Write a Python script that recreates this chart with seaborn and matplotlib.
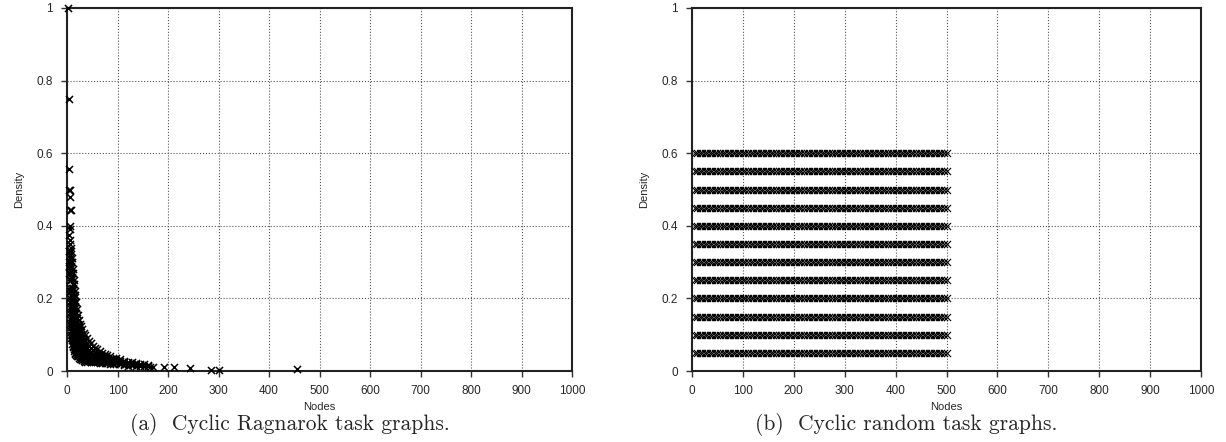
import matplotlib
matplotlib.use("Agg")
import matplotlib.pyplot as plt
import pandas as pd
import seaborn as sns

# (a) Cyclic Ragnarok task graphs: node count -> densities observed
ragnarok_nodes = [2, 3, 4, 5, 6, 7, 8, 9, 10, 11, 12, 13, 14, 15, 16, 18, 20, 22, 24, 26,
                  28, 30, 33, 36, 40, 44, 48, 52, 56, 60, 65, 70, 75, 80, 86, 92, 98, 105,
                  112, 120, 128, 136, 145, 152, 160, 165, 170, 192, 212, 244, 285, 301, 455]
ragnarok_density = [
    [1.0],
    [0.556, 0.33, 0.29],
    [0.75, 0.5, 0.375, 0.33, 0.30, 0.27],
    [0.5, 0.48, 0.39, 0.36, 0.32, 0.28, 0.25, 0.22, 0.20],
    [0.444, 0.4, 0.35, 0.31, 0.27, 0.23, 0.19, 0.16, 0.13],
    [0.444, 0.34, 0.30, 0.26, 0.22, 0.18, 0.15, 0.12, 0.10],
    [0.33, 0.29, 0.25, 0.21, 0.17, 0.14, 0.11, 0.09],
    [0.31, 0.27, 0.23, 0.19, 0.16, 0.13, 0.10, 0.085],
    [0.30, 0.26, 0.22, 0.18, 0.15, 0.12, 0.095, 0.075],
    [0.28, 0.24, 0.20, 0.17, 0.14, 0.11, 0.09, 0.07],
    [0.27, 0.23, 0.19, 0.16, 0.13, 0.105, 0.085, 0.065],
    [0.25, 0.21, 0.18, 0.15, 0.12, 0.095, 0.075, 0.06],
    [0.24, 0.20, 0.17, 0.14, 0.115, 0.09, 0.07, 0.055],
    [0.22, 0.19, 0.16, 0.13, 0.11, 0.085, 0.065, 0.05],
    [0.21, 0.18, 0.15, 0.125, 0.10, 0.08, 0.06, 0.048],
    [0.19, 0.16, 0.135, 0.11, 0.09, 0.072, 0.055, 0.045],
    [0.17, 0.145, 0.12, 0.10, 0.082, 0.066, 0.052, 0.042],
    [0.155, 0.13, 0.11, 0.09, 0.075, 0.06, 0.048, 0.04],
    [0.14, 0.12, 0.10, 0.082, 0.068, 0.055, 0.045, 0.037],
    [0.13, 0.11, 0.092, 0.076, 0.062, 0.05, 0.04, 0.034],
    [0.125, 0.10, 0.085, 0.07, 0.058, 0.047, 0.038, 0.032],
    [0.115, 0.095, 0.08, 0.066, 0.054, 0.044, 0.036, 0.03],
    [0.105, 0.088, 0.073, 0.06, 0.05, 0.041, 0.034, 0.028],
    [0.10, 0.082, 0.068, 0.056, 0.046, 0.038, 0.031, 0.026],
    [0.09, 0.075, 0.062, 0.051, 0.042, 0.035, 0.029, 0.025],
    [0.083, 0.068, 0.056, 0.047, 0.039, 0.032, 0.027],
    [0.076, 0.062, 0.051, 0.043, 0.036, 0.03, 0.025],
    [0.07, 0.057, 0.047, 0.04, 0.033, 0.028, 0.024],
    [0.064, 0.053, 0.044, 0.037, 0.031, 0.026],
    [0.06, 0.05, 0.041, 0.034, 0.029, 0.024],
    [0.055, 0.045, 0.038, 0.032, 0.027, 0.022],
    [0.05, 0.042, 0.035, 0.03, 0.025, 0.021],
    [0.046, 0.039, 0.033, 0.028, 0.023],
    [0.043, 0.036, 0.031, 0.026, 0.022],
    [0.04, 0.034, 0.029, 0.024, 0.02],
    [0.037, 0.032, 0.027, 0.022, 0.019],
    [0.035, 0.03, 0.025, 0.021],
    [0.032, 0.027, 0.023, 0.019],
    [0.028, 0.024, 0.02, 0.017],
    [0.026, 0.022, 0.018, 0.015],
    [0.024, 0.02, 0.016],
    [0.022, 0.018, 0.015],
    [0.02, 0.017, 0.014],
    [0.019, 0.015],
    [0.017, 0.013],
    [0.012],
    [0.011],
    [0.012],
    [0.012],
    [0.008],
    [0.004],
    [0.003],
    [0.006],
]

# (b) Cyclic random task graphs: every node count x every density level
random_nodes = [5, 10, 15, 20, 25, 30, 35, 40, 45, 50,
                55, 60, 65, 70, 75, 80, 85, 90, 95, 100,
                105, 110, 115, 120, 125, 130, 135, 140, 145, 150,
                155, 160, 165, 170, 175, 180, 185, 190, 195, 200,
                205, 210, 215, 220, 225, 230, 235, 240, 245, 250,
                255, 260, 265, 270, 275, 280, 285, 290, 295, 300,
                305, 310, 315, 320, 325, 330, 335, 340, 345, 350,
                355, 360, 365, 370, 375, 380, 385, 390, 395, 400,
                405, 410, 415, 420, 425, 430, 435, 440, 445, 450,
                455, 460, 465, 470, 475, 480, 485, 490, 495, 500]
random_density = [0.05, 0.10, 0.15, 0.20, 0.25, 0.30, 0.35, 0.40, 0.45, 0.50, 0.55, 0.60]

x_ticks = [0, 100, 200, 300, 400, 500, 600, 700, 800, 900, 1000]
y_ticks = [0, 0.2, 0.4, 0.6, 0.8, 1]
y_tick_labels = ["0", "0.2", "0.4", "0.6", "0.8", "1"]
captions = ["(a)  Cyclic Ragnarok task graphs.", "(b)  Cyclic random task graphs."]

rag = pd.DataFrame({"Nodes": ragnarok_nodes, "Density": ragnarok_density}).explode("Density")
rag["Density"] = rag["Density"].astype(float)
rnd = pd.DataFrame([(n, d) for d in random_density for n in random_nodes],
                   columns=["Nodes", "Density"])

sns.set_style("ticks")
plt.rcParams["font.family"] = ["Liberation Sans", "DejaVu Sans"]

fig = plt.figure(figsize=(12.26, 4.42), dpi=100)
ax1 = fig.add_axes([67 / 1226, 71 / 442, 505 / 1226, 363 / 442])
ax2 = fig.add_axes([692 / 1226, 71 / 442, 509 / 1226, 363 / 442])

for ax, df, lw in [(ax1, rag, 1.1), (ax2, rnd, 0.8)]:
    sns.scatterplot(data=df, x="Nodes", y="Density", marker="x", color="black",
                    s=26, linewidth=lw, ax=ax, zorder=3, clip_on=False)
    ax.set_xlim(0, 1000)
    ax.set_ylim(0, 1)
    ax.set_xticks(x_ticks)
    ax.set_xticklabels([str(t) for t in x_ticks])
    ax.set_yticks(y_ticks)
    ax.set_yticklabels(y_tick_labels)
    ax.tick_params(labelsize=8.5, length=4, width=1, color="#333333", pad=6)
    ax.grid(True, linestyle=":", color="#555555", linewidth=0.8)
    ax.set_axisbelow(True)
    for sp in ax.spines.values():
        sp.set_visible(True)
        sp.set_linewidth(1.5)
        sp.set_color("#222222")
    ax.set_xlabel("Nodes", fontsize=8, labelpad=4)
    ax.set_ylabel("Density", fontsize=8, labelpad=9)

fig.text(290 / 1226, 1 - 425 / 442, captions[0], family="cmr10", fontsize=15.5,
         ha="center", va="center")
fig.text(906 / 1226, 1 - 425 / 442, captions[1], family="cmr10", fontsize=15.5,
         ha="center", va="center")

fig.savefig("out.png", dpi=100)
